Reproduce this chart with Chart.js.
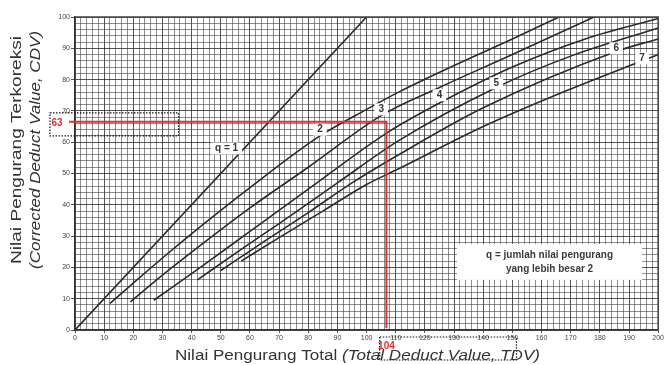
<!DOCTYPE html>
<html>
<head>
<meta charset="utf-8">
<script src="https://cdn.jsdelivr.net/npm/chart.js@4.4.1/dist/chart.umd.min.js"></script>
<style>
html,body{margin:0;padding:0;background:#fff;}
#wrap{width:665px;height:365px;position:relative;}
</style>
</head>
<body>
<div id="wrap"><canvas id="c"></canvas></div>
<script>
// ---- data (TDV on x, CDV on y) ----
const q1Tdv = [0, 100];
const q1Cdv = [0, 100];
const q2Tdv = [12, 20, 30, 43, 60, 84, 100, 111, 130, 150, 166];
const q2Cdv = [8.5, 15, 23, 33, 45.5, 62, 70.5, 76, 84.5, 93, 100];
const q3Tdv = [19, 30, 43, 60, 80, 105, 125, 150, 178];
const q3Cdv = [9, 17.5, 27, 39, 52, 68.5, 77.5, 88, 100];
const q4Tdv = [27, 43, 60, 80, 107, 125, 150, 175, 200];
const q4Cdv = [9.5, 20, 31.5, 45, 63, 72.5, 84, 93, 99.5];
const q5Tdv = [42, 55, 70, 90, 111, 144.5, 170, 200];
const q5Cdv = [16, 24.5, 34, 47, 60.5, 77.5, 87.5, 96.5];
const q6Tdv = [50, 62, 80, 95, 111, 140, 185.6, 200];
const q6Cdv = [19, 26.5, 37.5, 47, 56, 71, 89, 93];
const q7Tdv = [57, 70, 85, 100, 111, 140, 170, 194.5, 200];
const q7Cdv = [22, 29.5, 38, 46.5, 51.5, 65, 77, 86, 88];

const curveLabels = ['q = 1', '2', '3', '4', '5', '6', '7'];
const labelTdv = [52, 84, 105, 125, 144.5, 185.6, 194.5];
const labelCdv = [58, 64, 70.5, 75, 78.8, 90, 86.8];

const xTickLabels = [0,10,20,30,40,50,60,70,80,90,100,110,120,130,140,150,160,170,180,190,200];
const yTickLabels = [0,10,20,30,40,50,60,70,80,90,100];

const markTdv = 106.8, markCdv = 66.5;       // where the red guide lines sit in the picture
const markTdvText = '104', markCdvText = '63';
const noteLines = ['q = jumlah nilai pengurang', 'yang lebih besar 2'];
const xTitleA = 'Nilai Pengurang Total ', xTitleB = '(Total Deduct Value, TDV)';
const yTitleA = 'Nilai Pengurang Terkoreksi', yTitleB = '(Corrected Deduct Value, CDV)';

const series = [[q1Tdv,q1Cdv],[q2Tdv,q2Cdv],[q3Tdv,q3Cdv],[q4Tdv,q4Cdv],[q5Tdv,q5Cdv],[q6Tdv,q6Cdv],[q7Tdv,q7Cdv]];
const FONT = "'Liberation Sans', Arial, sans-serif";

const datasets = series.map((s, i) => ({
  label: curveLabels[i],
  data: s[0].map((x, k) => ({x: x, y: s[1][k]})),
  showLine: true,
  borderColor: '#2a2a2a',
  borderWidth: 1.6,
  pointRadius: 0,
  cubicInterpolationMode: 'monotone',
  fill: false
}));

function dotted(ctx, x1, y1, x2, y2) {
  ctx.save();
  ctx.strokeStyle = '#111';
  ctx.lineWidth = 1.2;
  ctx.setLineDash([1.5, 1.5]);
  ctx.strokeRect(x1, y1, x2 - x1, y2 - y1);
  ctx.restore();
}

const overlay = {
  id: 'overlay',
  afterDatasetsDraw(chart) {
    const {ctx, chartArea: a, scales: {x, y}} = chart;
    ctx.save();
    ctx.textAlign = 'center';
    ctx.textBaseline = 'middle';
    curveLabels.forEach((t, i) => {
      const px = x.getPixelForValue(labelTdv[i]);
      const py = y.getPixelForValue(labelCdv[i]);
      ctx.font = 'bold 10px ' + FONT;
      const w = ctx.measureText(t).width + 8;
      ctx.fillStyle = '#fff';
      ctx.fillRect(px - w / 2, py - 6, w, 12);
      ctx.fillStyle = '#333';
      ctx.fillText(t, px, py);
    });
    const bx1 = x.getPixelForValue(131), bx2 = x.getPixelForValue(194.5);
    const by1 = y.getPixelForValue(27.5), by2 = y.getPixelForValue(16);
    ctx.fillStyle = '#fff';
    ctx.fillRect(bx1, by1, bx2 - bx1, by2 - by1);
    ctx.fillStyle = '#3a3a3a';
    ctx.font = 'bold 10px ' + FONT;
    const cx = (bx1 + bx2) / 2;
    ctx.fillText(noteLines[0], cx, by1 + 11);
    ctx.fillText(noteLines[1], cx, by1 + 25);
    const mx = x.getPixelForValue(markTdv), my = y.getPixelForValue(markCdv);
    ctx.strokeStyle = '#e3302b';
    ctx.lineWidth = 2;
    ctx.beginPath();
    ctx.moveTo(a.left - 6, my);
    ctx.lineTo(mx, my);
    ctx.lineTo(mx, a.bottom - 2);
    ctx.stroke();
    ctx.restore();
  },
  afterDraw(chart) {
    const {ctx, chartArea: a, scales: {x, y}} = chart;
    const mx = x.getPixelForValue(markTdv), my = y.getPixelForValue(markCdv);
    ctx.save();
    dotted(ctx, a.left - 25, my - 9, x.getPixelForValue(35.5), my + 14);
    dotted(ctx, x.getPixelForValue(104.5), a.bottom + 7, x.getPixelForValue(151.4), a.bottom + 30);
    ctx.fillStyle = '#e3302b';
    ctx.font = 'bold 10px ' + FONT;
    ctx.textAlign = 'center';
    ctx.textBaseline = 'middle';
    ctx.fillText(markCdvText, a.left - 18, my + 1);
    ctx.fillText(markTdvText, mx, a.bottom + 16);
    ctx.fillStyle = '#333';
    ctx.textAlign = 'left';
    ctx.font = '14px ' + FONT;
    const wA = ctx.measureText(xTitleA).width;
    ctx.font = 'italic 14px ' + FONT;
    const wB = ctx.measureText(xTitleB).width;
    const targetW = 365, sx = targetW / (wA + wB);
    ctx.save();
    ctx.translate(175, 356);
    ctx.scale(sx, 1);
    ctx.font = '14px ' + FONT;
    ctx.fillText(xTitleA, 0, 0);
    ctx.font = 'italic 14px ' + FONT;
    ctx.fillText(xTitleB, wA, 0);
    ctx.restore();
    const drawRot = (txt, font, cxp, cyp, len) => {
      ctx.save();
      ctx.font = font;
      const w = ctx.measureText(txt).width;
      ctx.translate(cxp, cyp);
      ctx.rotate(-Math.PI / 2);
      ctx.scale(len / w, 1);
      ctx.textAlign = 'center';
      ctx.fillText(txt, 0, 0);
      ctx.restore();
    };
    drawRot(yTitleA, '14px ' + FONT, 17, 150, 228);
    drawRot(yTitleB, 'italic 14px ' + FONT, 36, 150, 238);
    ctx.restore();
  }
};

const gridColor = c => (c.tick && c.tick.value % 10 === 0) ? 'rgba(30,30,30,0.75)' : 'rgba(60,60,60,0.58)';
const tickColor = c => (c.tick && c.tick.value % 10 === 0) ? '#555' : 'rgba(0,0,0,0)';

new Chart(document.getElementById('c'), {
  type: 'scatter',
  data: {datasets: datasets},
  options: {
    responsive: true,
    maintainAspectRatio: false,
    animation: false,
    events: [],
    layout: {padding: {top: 17, right: 4, left: 0, bottom: 0}},
    plugins: {legend: {display: false}, tooltip: {enabled: false}},
    scales: {
      x: {
        type: 'linear', min: 0, max: 200,
        afterFit: s => { s.height = 35; },
        ticks: {
          stepSize: 2, autoSkip: false, maxRotation: 0, padding: 1,
          color: '#444', font: {size: 7, family: FONT},
          callback: v => xTickLabels.includes(v) ? String(v) : ''
        },
        grid: {color: gridColor, tickColor: tickColor, tickLength: 3, lineWidth: 1},
        border: {display: true, color: '#333', width: 1.5}
      },
      y: {
        type: 'linear', min: 0, max: 100,
        afterFit: s => { s.width = 75; },
        ticks: {
          stepSize: 2, autoSkip: false, padding: 1,
          color: '#444', font: {size: 7, family: FONT},
          callback: v => yTickLabels.includes(v) ? String(v) : ''
        },
        grid: {color: gridColor, tickColor: tickColor, tickLength: 4, lineWidth: 1},
        border: {display: true, color: '#333', width: 1.5}
      }
    }
  },
  plugins: [overlay, {
    id: 'frame',
    afterDraw(chart) {
      const {ctx, chartArea: a} = chart;
      ctx.save();
      ctx.strokeStyle = '#444';
      ctx.lineWidth = 1.5;
      ctx.beginPath();
      ctx.moveTo(a.left, a.top); ctx.lineTo(a.right, a.top); ctx.lineTo(a.right, a.bottom);
      ctx.stroke();
      ctx.restore();
    }
  }]
});
</script>
</body>
</html>
